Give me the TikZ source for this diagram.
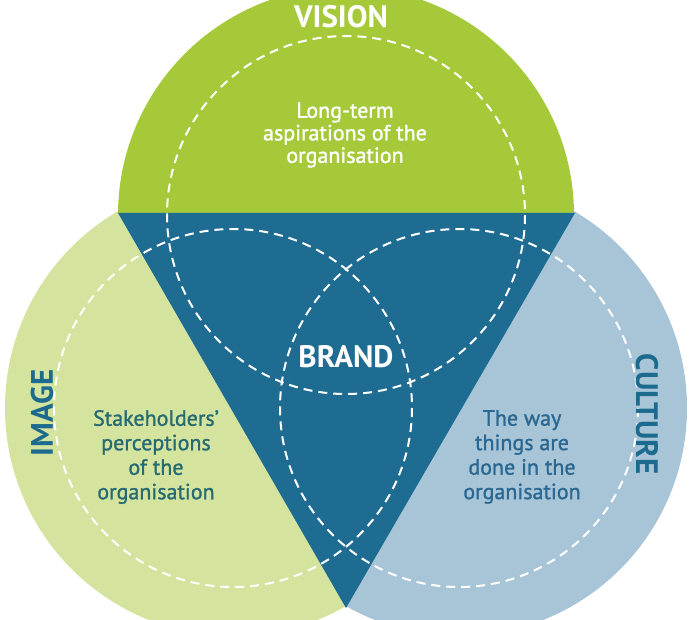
\documentclass[tikz,border=0pt]{standalone}
\usepackage{fontspec}
\setmainfont{PT Sans}
\newfontfamily\bodyfont{PT Sans}[FakeBold=1.2]
\definecolor{visiongreen}{HTML}{A6C93A}
\definecolor{imagegreen}{HTML}{D4E49E}
\definecolor{cultureblue}{HTML}{A8C5D8}
\definecolor{brandblue}{HTML}{1F6C93}
\definecolor{labelblue}{HTML}{1D6A8F}
\definecolor{imagetext}{HTML}{266A72}
\definecolor{culturetext}{HTML}{2A6892}
\begin{document}
\begin{tikzpicture}[x=1pt,y=-1pt,
  dashring/.style={white,line width=2pt,dash pattern=on 9pt off 6pt},
  heading/.style={font=\bfseries\fontsize{31}{31}\selectfont},
  body/.style={align=center,font=\bodyfont\fontsize{22}{24.5}\selectfont}]
\useasboundingbox (0,0) rectangle (690,620);
\clip (0,0) rectangle (690,620);
\coordinate (vis) at (346,215);
\coordinate (img) at (233,408);
\coordinate (cul) at (459,408);
% the three big circles
\begin{scope}
  \clip (0,0) rectangle (346,620);
  \fill[imagegreen] (img) circle (228);
\end{scope}
\begin{scope}
  \clip (346,0) rectangle (690,620);
  \fill[cultureblue] (cul) circle (228);
\end{scope}
\begin{scope}
  \clip (0,0) rectangle (690,213);
  \fill[visiongreen] (vis) circle (228);
\end{scope}
\fill[brandblue] (118,213) -- (575,213) -- (346,608) -- cycle;
% dashed inner rings
\foreach \c in {vis,img,cul}
  \draw[dashring] (\c) circle (179);
\node[heading,white] (visT) at (341,17) {VISION};
\node[heading,white] (brandT) at (346,357) {BRAND};
\node[heading,labelblue,rotate=90] (imgT) at (42,413) {IMAGE};
\node[heading,labelblue,rotate=-90] (culT) at (647,414) {CULTURE};
\node[body,white,font=\bodyfont\fontsize{22}{22.5}\selectfont] (visB) at (345,135) {Long-term\\aspirations of the\\organisation};
\node[body,imagetext] (imgB) at (156,457) {Stakeholders’\\perceptions\\of the\\organisation};
\node[body,culturetext] (culB) at (522,457) {The way\\things are\\done in the\\organisation};
\end{tikzpicture}
\end{document}
